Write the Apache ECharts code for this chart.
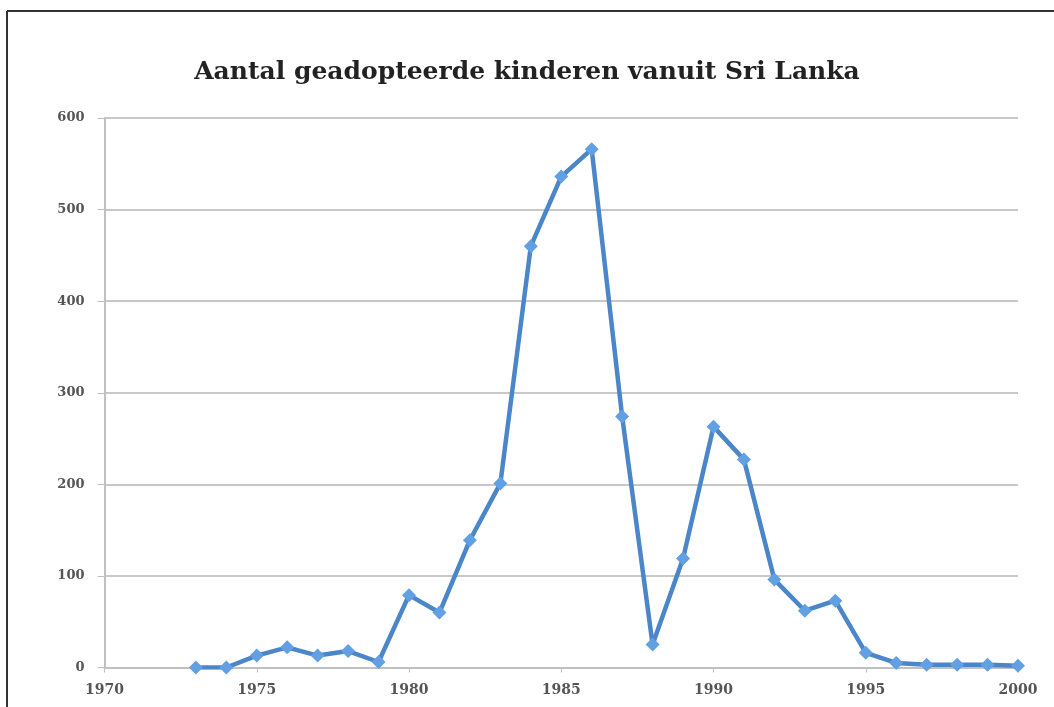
<!DOCTYPE html>
<html>
<head>
<meta charset="utf-8">
<script src="https://cdn.jsdelivr.net/npm/echarts@6/dist/echarts.min.js"></script>
<style>
html,body{margin:0;padding:0;background:#fff;}
#chart{width:1054px;height:707px;}
</style>
</head>
<body>
<div id="chart"></div>
<script>
const titleText = 'Aantal geadopteerde kinderen vanuit Sri Lanka';
const years = [1973,1974,1975,1976,1977,1978,1979,1980,1981,1982,1983,1984,1985,1986,1987,1988,1989,1990,1991,1992,1993,1994,1995,1996,1997,1998,1999,2000];
const adoptions = [0,0,13,22,13,18,6,79,60,139,201,460,536,566,274,25,119,263,227,96,62,73,16,5,3,3,3,2];

const chart = echarts.init(document.getElementById('chart'), null, {renderer:'canvas'});
const labelFont = 'DejaVu Serif';
chart.setOption({
  animation:false,
  backgroundColor:'#ffffff',
  title:{
    text:titleText,
    left:'center',
    top:55,
    textStyle:{fontFamily:'DejaVu Serif',fontWeight:'bold',fontSize:25,color:'#222222'}
  },
  graphic:[
    {type:'line',shape:{x1:7,y1:11,x2:1054,y2:11},style:{stroke:'#333333',lineWidth:2}},
    {type:'line',shape:{x1:7,y1:11,x2:7,y2:707},style:{stroke:'#333333',lineWidth:2}}
  ],
  grid:{left:104.5,right:36,top:118,bottom:39.5,containLabel:false},
  xAxis:{
    type:'value',min:1970,max:2000,interval:5,
    axisLine:{show:true,lineStyle:{color:'#c0c0c0',width:2}},
    axisTick:{show:true,length:5,lineStyle:{color:'#c0c0c0',width:1}},
    splitLine:{show:false},
    axisLabel:{margin:16,color:'#555555',fontFamily:labelFont,fontSize:14,fontWeight:'bold',formatter:v=>String(v)}
  },
  yAxis:{
    type:'value',min:0,max:600,interval:100,
    axisLine:{show:true,lineStyle:{color:'#c0c0c0',width:2}},
    axisTick:{show:true,length:7,lineStyle:{color:'#c0c0c0',width:1}},
    splitLine:{show:true,lineStyle:{color:'#c8c8c8',width:2}},
    axisLabel:{margin:20,color:'#555555',fontFamily:labelFont,fontSize:13,fontWeight:'bold'}
  },
  series:[{
    type:'line',
    data:years.map((y,i)=>[y,adoptions[i]]),
    lineStyle:{color:'#4a86c8',width:4.5},
    itemStyle:{color:'#62a0e4'},
    symbol:'diamond',symbolSize:14,showSymbol:true
  }]
});
</script>
</body>
</html>
